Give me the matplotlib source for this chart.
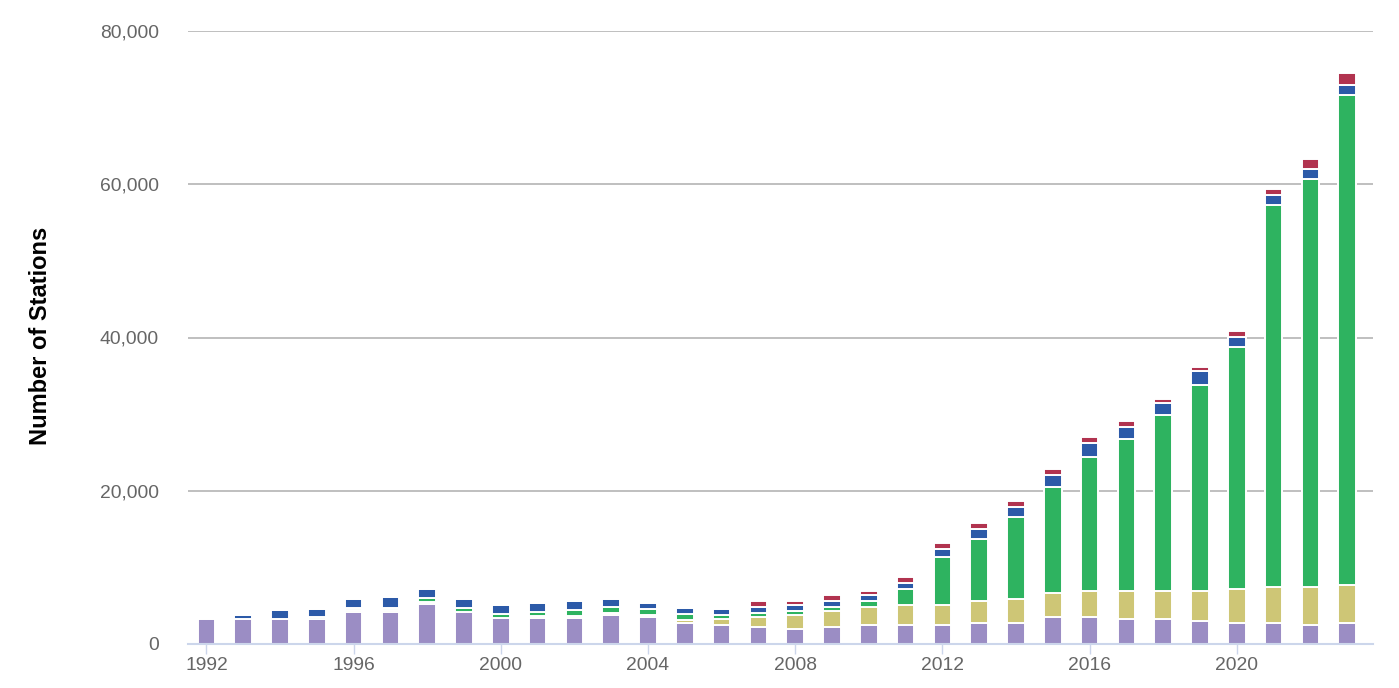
import matplotlib
matplotlib.use("Agg")
import matplotlib.pyplot as plt
from matplotlib.ticker import FuncFormatter

plt.rcParams["font.family"] = ["Liberation Sans", "DejaVu Sans"]

years = list(range(1992, 2024))

# stacked segments, bottom to top
purple = [3300, 3300, 3300, 3300, 4120, 4120, 5160, 4120, 3340, 3340, 3340, 3820,
          3560, 2780, 2520, 2260, 2000, 2260, 2520, 2520, 2520, 2780, 2780, 3560,
          3560, 3300, 3300, 3040, 2780, 2780, 2520, 2780]
yellow = [0, 0, 0, 0, 260, 260, 260, 0, 0, 260, 260, 260,
          260, 400, 780, 1300, 1830, 2090, 2350, 2610, 2610, 2870, 3130, 3130,
          3390, 3650, 3650, 3910, 4430, 4690, 4950, 4950]
green = [0, 0, 0, 260, 260, 260, 520, 520, 520, 520, 780, 740,
         780, 780, 520, 520, 520, 520, 780, 2090, 6260, 8080, 10690, 13820,
         17470, 19820, 22950, 26860, 31560, 49810, 53200, 63900]
blue = [0, 520, 1130, 1040, 1270, 1530, 1270, 1260, 1260, 1260, 1260, 1000,
        780, 780, 780, 780, 780, 780, 780, 780, 1040, 1300, 1300, 1560,
        1830, 1560, 1560, 1830, 1300, 1300, 1300, 1300]
red = [0, 0, 0, 0, 0, 0, 0, 0, 0, 0, 0, 0,
       0, 0, 0, 780, 520, 780, 520, 780, 780, 780, 780, 780,
       780, 780, 520, 520, 780, 780, 1300, 1560]

series = [purple, yellow, green, blue, red]
colors = ["#9b8dc4", "#cec676", "#2eb360", "#2c5aa8", "#b1334f"]

year_ticks = [1992, 1996, 2000, 2004, 2008, 2012, 2016, 2020]
y_ticks = [0, 20000, 40000, 60000, 80000]

fig = plt.figure(figsize=(13.99, 6.88), dpi=100)
ax = fig.add_axes([188 / 1399, 1 - 644 / 688, (1373 - 188) / 1399, (644 - 31) / 688])

bottom = [0] * len(years)
for vals, col in zip(series, colors):
    ax.bar(years, vals, bottom=bottom, width=0.48, color=col,
           edgecolor="white", linewidth=1.4, zorder=3)
    bottom = [b + v for b, v in zip(bottom, vals)]

ax.set_xlim(1991.5, 2023.7)
ax.set_ylim(0, 80000)

# gridlines (no line at zero, the axis sits there)
for yv in y_ticks[1:]:
    ax.axhline(yv, color="#bfbfbf", linewidth=1.4, zorder=1)

for s in ["top", "right", "left"]:
    ax.spines[s].set_visible(False)
ax.spines["bottom"].set_color("#ccd6eb")
ax.spines["bottom"].set_linewidth(1.5)
ax.spines["bottom"].set_zorder(4)

ax.set_xticks(year_ticks)
ax.set_xticklabels([str(y) for y in year_ticks])
ax.tick_params(axis="x", colors="#ccd6eb", length=7.5, width=1, pad=2,
               labelcolor="#666666", labelsize=13.9)

ax.set_yticks(y_ticks)
ax.yaxis.set_major_formatter(FuncFormatter(lambda v, p: f"{int(v):,}"))
ax.tick_params(axis="y", length=0, pad=21, labelcolor="#666666", labelsize=13.9)

fig.text(41 / 1399, 1 - 336 / 688, "Number of Stations", rotation=90,
         ha="center", va="center", fontsize=17, fontweight="bold", color="black")

fig.savefig("out.png", dpi=100)
